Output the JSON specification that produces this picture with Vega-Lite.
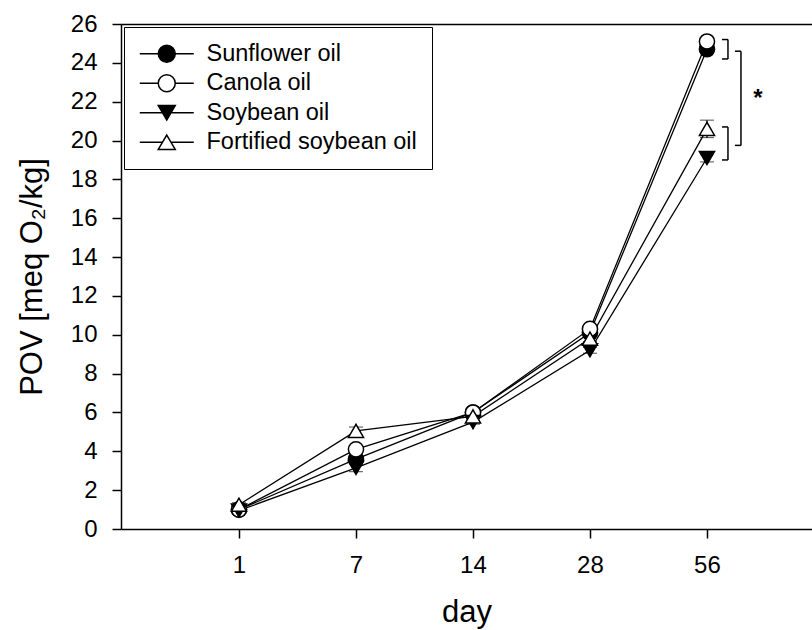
{
  "$schema": "https://vega.github.io/schema/vega-lite/v6.json",
  "width": 691,
  "height": 505,
  "autosize": {"type": "none"},
  "padding": {"left": 121, "top": 24, "right": 0, "bottom": 101},
  "background": "white",
  "config": {
    "view": {"stroke": null},
    "font": "Liberation Sans",
    "axis": {
      "grid": false,
      "domainColor": "black",
      "domainWidth": 1.5,
      "tickColor": "black",
      "tickWidth": 1.5,
      "tickSize": 9,
      "labelColor": "black",
      "titleColor": "black",
      "labelFont": "Liberation Sans",
      "titleFont": "Liberation Sans",
      "titleFontWeight": "normal",
      "labelFontSize": 24,
      "titleFontSize": 31
    },
    "legend": {
      "labelFont": "Liberation Sans",
      "labelFontSize": 23.5,
      "labelColor": "black",
      "labelLimit": 0,
      "strokeColor": "black",
      "fillColor": "white",
      "padding": 15,
      "symbolSize": 400,
      "labelOffset": 44,
      "rowPadding": 4.5,
      "symbolStrokeWidth": 1.5
    }
  },
  "datasets": {
    "pov": [
      {"day": 1, "oil": "Sunflower oil", "POV": 1.0, "sd": 0.1},
      {"day": 7, "oil": "Sunflower oil", "POV": 3.6, "sd": 0.2},
      {"day": 14, "oil": "Sunflower oil", "POV": 6.0, "sd": 0.1},
      {"day": 28, "oil": "Sunflower oil", "POV": 10.1, "sd": 0.15},
      {"day": 56, "oil": "Sunflower oil", "POV": 24.7, "sd": 0.2},
      {"day": 1, "oil": "Canola oil", "POV": 1.0, "sd": 0.1},
      {"day": 7, "oil": "Canola oil", "POV": 4.1, "sd": 0.2},
      {"day": 14, "oil": "Canola oil", "POV": 6.0, "sd": 0.1},
      {"day": 28, "oil": "Canola oil", "POV": 10.3, "sd": 0.15},
      {"day": 56, "oil": "Canola oil", "POV": 25.1, "sd": 0.2},
      {"day": 1, "oil": "Soybean oil", "POV": 0.95, "sd": 0.1},
      {"day": 7, "oil": "Soybean oil", "POV": 3.15, "sd": 0.2},
      {"day": 14, "oil": "Soybean oil", "POV": 5.5, "sd": 0.1},
      {"day": 28, "oil": "Soybean oil", "POV": 9.2, "sd": 0.15},
      {"day": 56, "oil": "Soybean oil", "POV": 19.1, "sd": 0.2},
      {"day": 1, "oil": "Fortified soybean oil", "POV": 1.25, "sd": 0.1},
      {"day": 7, "oil": "Fortified soybean oil", "POV": 5.05, "sd": 0.2},
      {"day": 14, "oil": "Fortified soybean oil", "POV": 5.8, "sd": 0.1},
      {"day": 28, "oil": "Fortified soybean oil", "POV": 9.8, "sd": 0.15},
      {"day": 56, "oil": "Fortified soybean oil", "POV": 20.6, "sd": 0.45}
    ],
    "brackets": [
      {"day": 56, "kind": "small", "top": 25.2, "bottom": 24.2},
      {"day": 56, "kind": "small", "top": 20.7, "bottom": 19.0},
      {"day": 56, "kind": "big", "top": 24.6, "bottom": 19.75}
    ],
    "marks": [
      {"day": 56, "POV": 22.3, "label": "*"}
    ]
  },
  "resolve": {
    "axis": {"x": "independent", "y": "independent"},
    "scale": {"shape": "independent", "fill": "independent", "stroke": "independent"}
  },
  "layer": [
    {
      "data": {"name": "pov"},
      "mark": {"type": "line", "color": "black", "strokeWidth": 1.3},
      "encoding": {
        "x": {
          "field": "day", "type": "ordinal", "sort": [1, 7, 14, 28, 56],
          "scale": {"type": "point", "padding": 0.953, "align": 0.529},
          "axis": {"orient": "top", "labels": false, "ticks": false, "title": null}
        },
        "y": {
          "field": "POV", "type": "quantitative",
          "scale": {"domain": [0, 26], "nice": false},
          "axis": {"values": [0, 2, 4, 6, 8, 10, 12, 14, 16, 18, 20, 22, 24, 26], "title": "POV [meq O₂/kg]", "labelPadding": 15, "titlePadding": 22}
        },
        "detail": {"field": "oil"}
      }
    },
    {
      "data": {"name": "pov"},
      "mark": {"type": "errorbar", "ticks": {"size": 14, "color": "black", "strokeWidth": 1.3}, "rule": {"color": "black", "strokeWidth": 1.3}},
      "encoding": {
        "x": {"field": "day", "type": "ordinal", "sort": [1, 7, 14, 28, 56], "axis": null},
        "y": {"field": "POV", "type": "quantitative", "axis": null},
        "yError": {"field": "sd"}
      }
    },
    {
      "data": {"name": "pov"},
      "mark": {"type": "point", "size": 230, "stroke": "black", "strokeWidth": 1.5, "opacity": 1},
      "encoding": {
        "x": {
          "field": "day", "type": "ordinal", "sort": [1, 7, 14, 28, 56],
          "axis": {"orient": "bottom", "title": "day", "labelAngle": 0, "labelPadding": 15, "titlePadding": 20}
        },
        "y": {"field": "POV", "type": "quantitative", "axis": null},
        "fill": {
          "field": "oil", "type": "nominal",
          "scale": {"domain": ["Sunflower oil", "Canola oil", "Soybean oil", "Fortified soybean oil"], "range": ["black", "white", "black", "white"]},
          "legend": null
        },
        "shape": {
          "field": "oil", "type": "nominal",
          "scale": {"domain": ["Sunflower oil", "Canola oil", "Soybean oil", "Fortified soybean oil"], "range": ["circle", "circle", "triangle-down", "triangle-up"]},
          "legend": null
        }
      }
    },
    {
      "data": {"name": "pov"},
      "transform": [{"filter": "datum.day < 0"}],
      "mark": {"type": "point", "filled": true, "strokeWidth": 1.5, "opacity": 1},
      "encoding": {
        "x": {"field": "day", "type": "ordinal", "axis": null},
        "y": {"field": "POV", "type": "quantitative", "axis": null},
        "fill": {
          "field": "oil", "type": "nominal",
          "scale": {"domain": ["Sunflower oil", "Canola oil", "Soybean oil", "Fortified soybean oil"], "range": ["black", "white", "black", "white"]},
          "legend": {"title": null, "orient": "top-left", "offset": 3}
        },
        "stroke": {
          "field": "oil", "type": "nominal",
          "scale": {"domain": ["Sunflower oil", "Canola oil", "Soybean oil", "Fortified soybean oil"], "range": ["black", "black", "black", "black"]},
          "legend": {"title": null, "orient": "top-left", "offset": 3}
        },
        "shape": {
          "field": "oil", "type": "nominal",
          "scale": {"domain": ["Sunflower oil", "Canola oil", "Soybean oil", "Fortified soybean oil"], "range": [
            "M-1.1,0H0.75M2.45,0H4.3M0.75,0A0.85,0.85,0,1,1,2.45,0A0.85,0.85,0,1,1,0.75,0Z",
            "M-1.1,0H0.75M2.45,0H4.3M0.75,0A0.85,0.85,0,1,1,2.45,0A0.85,0.85,0,1,1,0.75,0Z",
            "M-1.1,0H1.18M2.02,0H4.3M0.75,-0.72L2.45,-0.72L1.6,0.72Z",
            "M-1.1,0H1.18M2.02,0H4.3M1.6,-0.72L2.45,0.72L0.75,0.72Z"
          ]},
          "legend": {"title": null, "orient": "top-left", "offset": 3}
        }
      }
    },
    {
      "data": {"name": "brackets"},
      "transform": [{"filter": "datum.kind === 'small'"}],
      "layer": [
        {
          "mark": {"type": "rule", "color": "black", "strokeWidth": 1.5, "xOffset": 21},
          "encoding": {
            "x": {"field": "day", "type": "ordinal", "axis": null},
            "y": {"field": "top", "type": "quantitative", "axis": null},
            "y2": {"field": "bottom"}
          }
        },
        {
          "mark": {"type": "rule", "color": "black", "strokeWidth": 1.5, "xOffset": 15, "x2Offset": 21},
          "encoding": {
            "x": {"field": "day", "type": "ordinal", "axis": null},
            "x2": {"field": "day"},
            "y": {"field": "top", "type": "quantitative", "axis": null}
          }
        },
        {
          "mark": {"type": "rule", "color": "black", "strokeWidth": 1.5, "xOffset": 15, "x2Offset": 21},
          "encoding": {
            "x": {"field": "day", "type": "ordinal", "axis": null},
            "x2": {"field": "day"},
            "y": {"field": "bottom", "type": "quantitative", "axis": null}
          }
        }
      ]
    },
    {
      "data": {"name": "brackets"},
      "transform": [{"filter": "datum.kind === 'big'"}],
      "layer": [
        {
          "mark": {"type": "rule", "color": "black", "strokeWidth": 1.5, "xOffset": 34},
          "encoding": {
            "x": {"field": "day", "type": "ordinal", "axis": null},
            "y": {"field": "top", "type": "quantitative", "axis": null},
            "y2": {"field": "bottom"}
          }
        },
        {
          "mark": {"type": "rule", "color": "black", "strokeWidth": 1.5, "xOffset": 28, "x2Offset": 34},
          "encoding": {
            "x": {"field": "day", "type": "ordinal", "axis": null},
            "x2": {"field": "day"},
            "y": {"field": "top", "type": "quantitative", "axis": null}
          }
        },
        {
          "mark": {"type": "rule", "color": "black", "strokeWidth": 1.5, "xOffset": 28, "x2Offset": 34},
          "encoding": {
            "x": {"field": "day", "type": "ordinal", "axis": null},
            "x2": {"field": "day"},
            "y": {"field": "bottom", "type": "quantitative", "axis": null}
          }
        }
      ]
    },
    {
      "data": {"name": "marks"},
      "mark": {"type": "text", "font": "Liberation Sans", "fontSize": 24, "fontWeight": "bold", "color": "black", "xOffset": 51, "baseline": "middle", "dy": 3},
      "encoding": {
        "x": {"field": "day", "type": "ordinal", "axis": null},
        "y": {"field": "POV", "type": "quantitative", "axis": null},
        "text": {"field": "label"}
      }
    }
  ]
}
